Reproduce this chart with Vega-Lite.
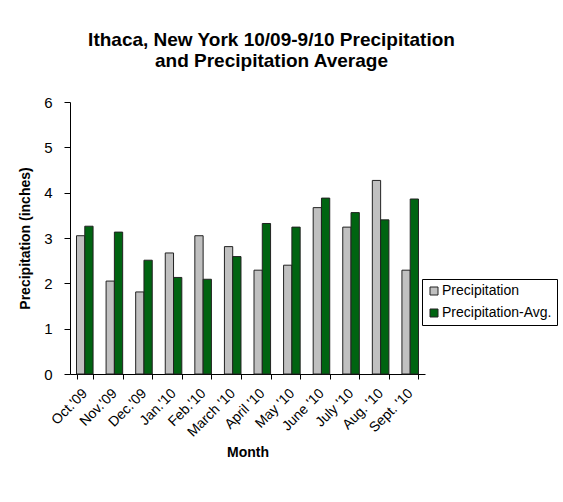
{
  "$schema": "https://vega.github.io/schema/vega-lite/v6.json",
  "width": 355,
  "height": 272,
  "autosize": {"type": "none"},
  "padding": {"left": 70, "top": 102, "right": 138, "bottom": 128},
  "background": "white",
  "title": {
    "text": ["Ithaca, New York 10/09-9/10 Precipitation", "and Precipitation Average"],
    "font": "Liberation Sans",
    "fontSize": 19,
    "fontWeight": "bold",
    "color": "black",
    "anchor": "middle",
    "dx": 24,
    "offset": 24,
    "lineHeight": 21
  },
  "data": {
    "values": [
      {"month": "Oct.'09", "series": "Precipitation", "value": 3.05},
      {"month": "Oct.'09", "series": "Precipitation-Avg.", "value": 3.26},
      {"month": "Nov.'09", "series": "Precipitation", "value": 2.05},
      {"month": "Nov.'09", "series": "Precipitation-Avg.", "value": 3.13},
      {"month": "Dec.'09", "series": "Precipitation", "value": 1.81},
      {"month": "Dec.'09", "series": "Precipitation-Avg.", "value": 2.51},
      {"month": "Jan.'10", "series": "Precipitation", "value": 2.67},
      {"month": "Jan.'10", "series": "Precipitation-Avg.", "value": 2.13},
      {"month": "Feb.'10", "series": "Precipitation", "value": 3.05},
      {"month": "Feb.'10", "series": "Precipitation-Avg.", "value": 2.09},
      {"month": "March '10", "series": "Precipitation", "value": 2.81},
      {"month": "March '10", "series": "Precipitation-Avg.", "value": 2.59},
      {"month": "April '10", "series": "Precipitation", "value": 2.29},
      {"month": "April '10", "series": "Precipitation-Avg.", "value": 3.32},
      {"month": "May '10", "series": "Precipitation", "value": 2.40},
      {"month": "May '10", "series": "Precipitation-Avg.", "value": 3.24},
      {"month": "June '10", "series": "Precipitation", "value": 3.67},
      {"month": "June '10", "series": "Precipitation-Avg.", "value": 3.88},
      {"month": "July '10", "series": "Precipitation", "value": 3.24},
      {"month": "July '10", "series": "Precipitation-Avg.", "value": 3.56},
      {"month": "Aug. '10", "series": "Precipitation", "value": 4.27},
      {"month": "Aug. '10", "series": "Precipitation-Avg.", "value": 3.40},
      {"month": "Sept. '10", "series": "Precipitation", "value": 2.29},
      {"month": "Sept. '10", "series": "Precipitation-Avg.", "value": 3.86}
    ]
  },
  "mark": {"type": "bar", "stroke": "#222222", "strokeWidth": 1},
  "encoding": {
    "x": {
      "field": "month",
      "type": "nominal",
      "sort": ["Oct.'09", "Nov.'09", "Dec.'09", "Jan.'10", "Feb.'10", "March '10", "April '10", "May '10", "June '10", "July '10", "Aug. '10", "Sept. '10"],
      "scale": {"paddingInner": 0.44, "paddingOuter": 0.22},
      "axis": {
        "title": "Month",
        "tickBand": "extent",
        "labelAngle": -45,
        "labelAlign": "right",
        "labelBaseline": "middle",
        "labelPadding": 12,
        "labelFontSize": 14,
        "titlePadding": 6
      }
    },
    "xOffset": {
      "field": "series",
      "type": "nominal",
      "scale": {"paddingInner": 0, "paddingOuter": 0}
    },
    "y": {
      "field": "value",
      "type": "quantitative",
      "scale": {"domain": [0, 6], "nice": false},
      "axis": {
        "title": "Precipitation (inches)",
        "values": [0, 1, 2, 3, 4, 5, 6],
        "grid": false,
        "tickSize": 6,
        "labelPadding": 12,
        "labelFontSize": 15,
        "titlePadding": 11
      }
    },
    "color": {
      "field": "series",
      "type": "nominal",
      "scale": {"domain": ["Precipitation", "Precipitation-Avg."], "range": ["#C0C0C0", "#006411"]},
      "legend": {
        "title": null,
        "orient": "none",
        "legendX": 352,
        "legendY": 177,
        "strokeColor": "black",
        "fillColor": "white",
        "padding": 5,
        "labelFontSize": 14,
        "labelFont": "Liberation Sans",
        "labelColor": "black",
        "symbolType": "square",
        "symbolSize": 64,
        "symbolStrokeColor": "#222222",
        "symbolStrokeWidth": 1,
        "symbolOpacity": 1,
        "rowPadding": 8,
        "labelOffset": 1
      }
    }
  },
  "config": {
    "view": {"stroke": null},
    "axis": {
      "labelFont": "Liberation Sans",
      "titleFont": "Liberation Sans",
      "titleFontSize": 14,
      "titleFontWeight": "bold",
      "labelColor": "black",
      "titleColor": "black",
      "domainColor": "black",
      "tickColor": "black",
      "domainWidth": 1,
      "tickWidth": 1
    }
  }
}
